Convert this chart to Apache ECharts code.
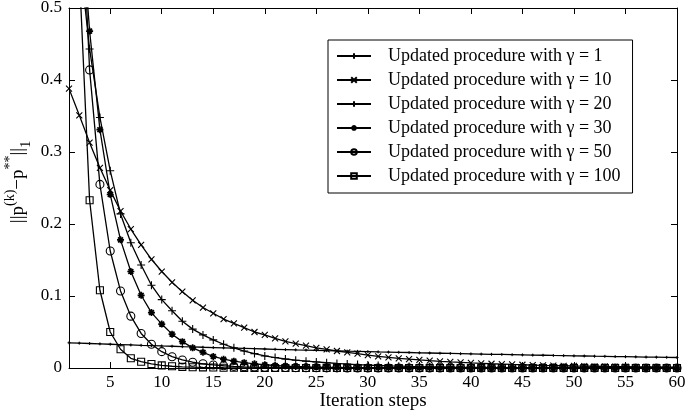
<!DOCTYPE html>
<html><head><meta charset="utf-8">
<script src="https://cdn.jsdelivr.net/npm/echarts@6/dist/echarts.min.js"></script>
<style>html,body{margin:0;padding:0;background:#fff}#c{width:685px;height:412px}</style>
</head><body><div id="c"></div>
<script>
const steps = [1,2,3,4,5,6,7,8,9,10,11,12,13,14,15,16,17,18,19,20,21,22,23,24,25,26,27,28,29,30,
  31,32,33,34,35,36,37,38,39,40,41,42,43,44,45,46,47,48,49,50,51,52,53,54,55,56,57,58,59,60];
const seriesNames = ['Updated procedure with \u03b3 = 1','Updated procedure with \u03b3 = 10','Updated procedure with \u03b3 = 20',
  'Updated procedure with \u03b3 = 30','Updated procedure with \u03b3 = 50','Updated procedure with \u03b3 = 100'];
const gamma1 = [0.0350,0.0345,0.0340,0.0335,0.0330,0.0325,0.0320,0.0315,0.0311,0.0306,0.0302,0.0297,0.0293,0.0288,0.0284,
  0.0280,0.0276,0.0272,0.0268,0.0264,0.0260,0.0256,0.0252,0.0249,0.0245,0.0241,0.0238,0.0234,0.0231,0.0228,
  0.0224,0.0221,0.0218,0.0215,0.0211,0.0208,0.0205,0.0202,0.0199,0.0196,0.0193,0.0190,0.0188,0.0185,0.0182,
  0.0179,0.0177,0.0174,0.0172,0.0169,0.0167,0.0164,0.0162,0.0159,0.0157,0.0155,0.0152,0.0150,0.0148,0.0146];
const gamma10 = [0.388,0.351,0.313,0.278,0.247,0.218,0.193,0.171,0.151,0.134,0.119,0.106,0.094,0.084,0.076,
  0.068,0.062,0.056,0.050,0.046,0.041,0.037,0.034,0.031,0.028,0.026,0.0236,0.0218,0.0200,0.0180,
  0.0162,0.0148,0.0135,0.0123,0.0112,0.0102,0.0093,0.0085,0.0078,0.0071,0.0065,0.0059,0.0054,0.0049,0.0045,
  0.0041,0.0037,0.0034,0.0031,0.0028,0.0026,0.0024,0.0022,0.0020,0.0018,0.0016,0.0015,0.0014,0.0012,0.0011];
const gamma20 = [0.75,0.575,0.443,0.348,0.274,0.214,0.174,0.143,0.115,0.095,0.0796,0.065,0.054,0.046,0.039,
  0.033,0.028,0.0236,0.020,0.0167,0.0145,0.0125,0.0108,0.0095,0.0084,0.0073,0.0063,0.0055,0.0047,0.0041,
  0.0035,0.0030,0.0026,0.0022,0.0019,0.0016,0.0014,0.0012,0.0010,0.0009,0.0008,0.0007,0.0006,0.0005,0.0004,
  0.0004,0.0003,0.0003,0.0002,0.0002,0.0002,0.0001,0.0001,0.0001,0.0001,0.0001,0.0001,0.0001,0.0000,0.0000];
const gamma30 = [1.0,0.66,0.468,0.331,0.241,0.178,0.134,0.101,0.077,0.061,0.047,0.0366,0.028,0.0218,0.0160,
  0.0122,0.0095,0.0074,0.0058,0.0045,0.0035,0.0027,0.0021,0.0016,0.0013,0.0010,0.0008,0.0006,0.0005,0.0004,
  0.0003,0.0002,0.0002,0.0001,0.0001,0.0001,0.0001,0.0000,0.0000,0.0000,0.0000,0.0000,0.0000,0.0000,0.0000,
  0.0000,0.0000,0.0000,0.0000,0.0000,0.0000,0.0000,0.0000,0.0000,0.0000,0.0000,0.0000,0.0000,0.0000,0.0000];
const gamma50 = [1.3,0.72,0.414,0.255,0.1625,0.107,0.072,0.048,0.033,0.0227,0.0157,0.0112,0.0080,0.0058,0.0042,
  0.0031,0.0023,0.0017,0.0013,0.0010,0.0008,0.0006,0.0005,0.0004,0.0003,0.0002,0.0002,0.0001,0.0001,0.0001,
  0.0000,0.0000,0.0000,0.0000,0.0000,0.0000,0.0000,0.0000,0.0000,0.0000,0.0000,0.0000,0.0000,0.0000,0.0000,
  0.0000,0.0000,0.0000,0.0000,0.0000,0.0000,0.0000,0.0000,0.0000,0.0000,0.0000,0.0000,0.0000,0.0000,0.0000];
const gamma100 = [1.2,0.55,0.233,0.108,0.050,0.026,0.0135,0.0087,0.0056,0.0036,0.0024,0.0016,0.0011,0.0008,0.0006,
  0.0004,0.0003,0.0002,0.0002,0.0001,0.0000,0.0000,0.0000,0.0000,0.0000,0.0000,0.0000,0.0000,0.0000,0.0000,
  0.0000,0.0000,0.0000,0.0000,0.0000,0.0000,0.0000,0.0000,0.0000,0.0000,0.0000,0.0000,0.0000,0.0000,0.0000,
  0.0000,0.0000,0.0000,0.0000,0.0000,0.0000,0.0000,0.0000,0.0000,0.0000,0.0000,0.0000,0.0000,0.0000,0.0000];
const xTicks = [5,10,15,20,25,30,35,40,45,50,55,60];
const yTicks = [0,0.1,0.2,0.3,0.4,0.5];

const FONT = 'Liberation Serif';
const NOFILL = 'rgba(0,0,0,0)';
const seriesValues = [gamma1,gamma10,gamma20,gamma30,gamma50,gamma100];
const symbols = [
  {symbol:'path://M5,0L5,10M0,5L10,5', size:3, bw:1},
  {symbol:'path://M0,0L10,10M10,0L0,10', size:6, bw:1.1},
  {symbol:'path://M5,0L5,10M0,5L10,5', size:8, bw:1.1},
  {symbol:'path://M5,0L5,10M0,5L10,5M1.5,1.5L8.5,8.5M8.5,1.5L1.5,8.5', size:7, bw:1.7},
  {symbol:'circle', size:8, bw:1.1},
  {symbol:'rect', size:7, bw:1.1}
];
const series = seriesValues.map((vals, i) => ({
  name: seriesNames[i],
  type: 'line',
  xAxisIndex: 0, yAxisIndex: 0,
  data: steps.map((s, j) => [s, vals[j]]),
  symbol: symbols[i].symbol,
  symbolSize: symbols[i].size,
  clip: true,
  lineStyle: {color:'#000', width:1.3},
  itemStyle: {color: NOFILL, borderColor:'#000', borderWidth: symbols[i].bw},
  emphasis: {disabled: true}
}));

const axisCommonX = {
  type:'value', min:1, max:60,
  axisLine:{show:true, onZero:false, lineStyle:{color:'#000', width:1}},
  axisTick:{show:true, inside:true, length:6, customValues:xTicks, lineStyle:{color:'#000'}},
  splitLine:{show:false}
};
const axisCommonY = {
  type:'value', min:yTicks[0], max:yTicks[yTicks.length-1], interval:0.1,
  axisLine:{show:true, onZero:false, lineStyle:{color:'#000', width:1}},
  axisTick:{show:true, inside:true, length:6, lineStyle:{color:'#000'}},
  splitLine:{show:false}
};

const chart = echarts.init(document.getElementById('c'), null, {renderer:'canvas'});
chart.setOption({
  animation:false,
  backgroundColor:'#fff',
  grid:{left:69, right:8, top:8, bottom:44, containLabel:false, outerBoundsMode:'none'},
  xAxis:[
    Object.assign({}, axisCommonX, {
      position:'bottom',
      axisLabel:{customValues:xTicks, color:'#000', fontFamily:FONT, fontSize:17, margin:6},
      name:'Iteration steps', nameLocation:'middle', nameGap:24, nameMoveOverlap:false,
      nameTextStyle:{color:'#000', fontFamily:FONT, fontSize:19}
    }),
    Object.assign({}, axisCommonX, {position:'top', axisLabel:{show:false}})
  ],
  yAxis:[
    Object.assign({}, axisCommonY, {
      position:'left',
      axisLabel:{color:'#000', fontFamily:FONT, fontSize:17, margin:7,
        formatter: v => (v === 0 ? '0' : v.toFixed(1))},
      name:'{n|||p}{sup|(k)}{n|\u2212p}{sup|**}{n|||}{sub|1}',
      nameLocation:'middle', nameGap:36, nameMoveOverlap:false,
      nameTextStyle:{color:'#000', fontFamily:FONT, fontSize:19, padding:[0,0,0,12],
        rich:{
          n:{fontFamily:FONT, fontSize:19, lineHeight:30, verticalAlign:'middle', color:'#000'},
          sup:{fontFamily:FONT, fontSize:14, lineHeight:13, verticalAlign:'top', color:'#000'},
          sub:{fontFamily:FONT, fontSize:14, lineHeight:12, verticalAlign:'bottom', color:'#000'}
        }}
    }),
    Object.assign({}, axisCommonY, {position:'right', axisLabel:{show:false}})
  ],
  legend:{
    show:true, orient:'vertical', left:328, top:40,
    data: seriesNames,
    itemWidth:34, itemHeight:7, itemGap:6,
    padding:[7, 12, 8, 8],
    borderColor:'#000', borderWidth:1, backgroundColor:'#fff',
    selectedMode:false,
    formatter: name => '{t|' + name + '}',
    textStyle:{color:'#000', fontFamily:FONT, fontSize:18,
      rich:{t:{fontFamily:FONT, fontSize:18, color:'#000', padding:[0,0,0,12]}}}
  },
  series: series
});
</script></body></html>
